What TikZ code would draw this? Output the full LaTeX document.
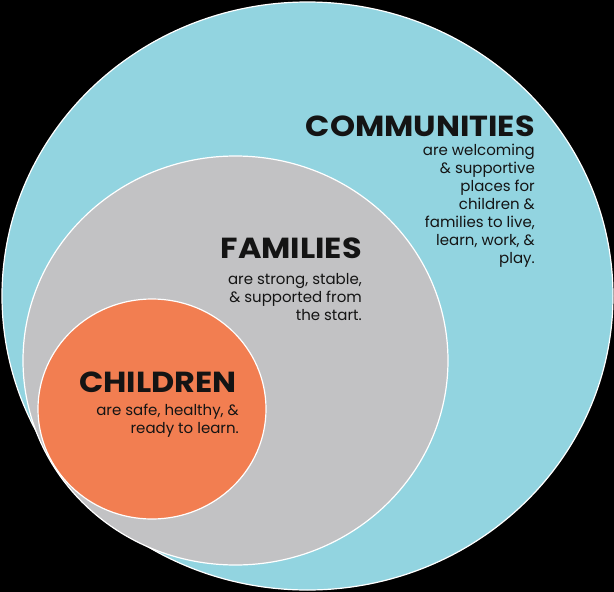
\documentclass[tikz,border=0pt]{standalone}
\usepackage{fontspec}
\setmainfont{Poppins}
\definecolor{commblue}{HTML}{92D4E0}
\definecolor{famgray}{HTML}{C2C2C4}
\definecolor{childorange}{HTML}{F27E51}
\definecolor{inkdark}{HTML}{141414}
\newcommand{\widetitle}[1]{\scalebox{1.1}[1]{#1}}
\tikzset{
  ring/.style={draw=white, line width=1.2pt},
  title/.style={anchor=base east, inner sep=0pt, text=inkdark, font=\fontsize{29}{30}\selectfont\bfseries},
  body/.style={anchor=base east, inner sep=0pt, text=inkdark, align=right, font=\fontsize{15}{18}\selectfont}
}
\begin{document}
\begin{tikzpicture}[x=1pt,y=-1pt]
\fill[black] (0,0) rectangle (614,592);
\useasboundingbox (0,0) rectangle (614,592);
\draw[ring, fill=commblue] (307.5,296) ellipse [x radius=305.5, y radius=294];
\draw[ring, fill=famgray] (235.5,360.5) ellipse [x radius=212.5, y radius=204.5];
\draw[ring, fill=childorange] (152,409) ellipse [x radius=114, y radius=110];
\node[title] (commT) at (535,136) {\widetitle{COMMUNITIES}};
\node[body] (commB) at (535,263) {are welcoming\\ \& supportive\\ places for\\ children \&\\ families to live,\\ learn, work, \&\\ play.};
\node[title] (famT) at (362,258) {\widetitle{FAMILIES}};
\node[body] (famB) at (362,320) {are strong, stable,\\ \& supported from\\ the start.};
\node[title] (childT) at (237,392) {\widetitle{CHILDREN}};
\node[body] (childB) at (239,433) {are safe, healthy, \&\\ ready to learn.};
\end{tikzpicture}
\end{document}
